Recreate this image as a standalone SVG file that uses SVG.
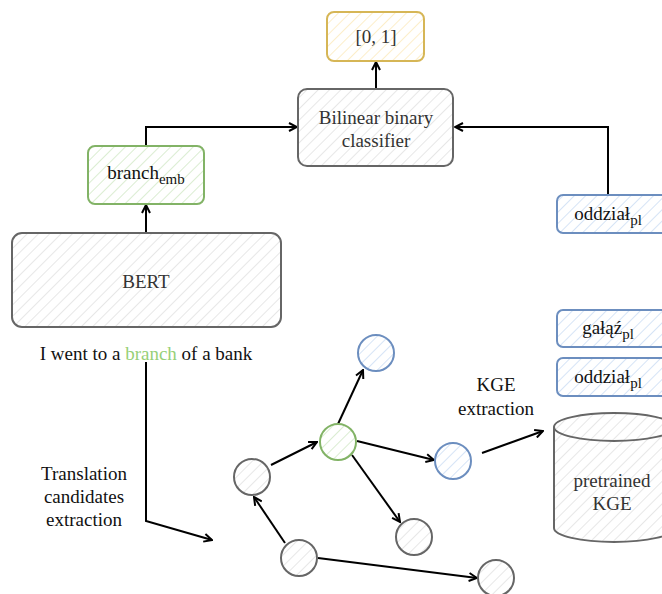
<svg xmlns="http://www.w3.org/2000/svg" width="662" height="594" viewBox="0 0 662 594">
  <defs>
    <pattern id="hatch-gray" patternUnits="userSpaceOnUse" width="8" height="8" patternTransform="rotate(45)">
      <rect width="8" height="8" fill="#ffffff"/>
      <line x1="0" y1="0" x2="0" y2="8" stroke="#e0e0e0" stroke-width="1.5"/>
    </pattern>
    <pattern id="hatch-green" patternUnits="userSpaceOnUse" width="8" height="8" patternTransform="rotate(45)">
      <rect width="8" height="8" fill="#ffffff"/>
      <line x1="0" y1="0" x2="0" y2="8" stroke="#cfe8c4" stroke-width="1.5"/>
    </pattern>
    <pattern id="hatch-yellow" patternUnits="userSpaceOnUse" width="8" height="8" patternTransform="rotate(45)">
      <rect width="8" height="8" fill="#ffffff"/>
      <line x1="0" y1="0" x2="0" y2="8" stroke="#fbe9b8" stroke-width="1.5"/>
    </pattern>
    <pattern id="hatch-blue" patternUnits="userSpaceOnUse" width="8" height="8" patternTransform="rotate(45)">
      <rect width="8" height="8" fill="#ffffff"/>
      <line x1="0" y1="0" x2="0" y2="8" stroke="#c9dbf3" stroke-width="1.5"/>
    </pattern>
    <marker id="arrow" viewBox="0 0 10 10" refX="9" refY="5" markerWidth="5" markerHeight="5" orient="auto-start-reverse" markerUnits="strokeWidth">
      <path d="M1,1 L9,5 L1,9" fill="none" stroke="#000" stroke-width="2"/>
    </marker>
  </defs>

  <!-- connectors: black 2px lines ending in open arrowheads -->
  <g id="connectors" fill="none" stroke="#000000" stroke-width="2" marker-end="url(#arrow)">
    <path d="M376,89 L376,62"/>
    <path d="M146,233 L146,205"/>
    <path d="M146,146 L146,127 L297,127"/>
    <path d="M608,196 L608,127 L455,127"/>
    <path d="M146,362 L146,521 L212,540"/>
    <path d="M338,424 L363,370"/>
    <path d="M357,441 L434,460"/>
    <path d="M352,455 L400,522"/>
    <path d="M271,465 L317,442"/>
    <path d="M285,543 L254,497"/>
    <path d="M318,558 L477,578"/>
    <path d="M482,453 L543,431"/>
  </g>

  <g id="result">
    <rect x="327" y="12" width="97" height="49" rx="7" fill="url(#hatch-yellow)" stroke="#d6b656" stroke-width="2"/>
    <text font-family="'Liberation Serif', serif" font-size="19" fill="#333333" text-anchor="middle" x="376" y="43">[0, 1]</text>
  </g>

  <g id="classifier">
    <rect x="298" y="89" width="155" height="77" rx="9" fill="url(#hatch-gray)" stroke="#666666" stroke-width="2"/>
    <text font-family="'Liberation Serif', serif" font-size="19" fill="#333333" text-anchor="middle" x="376" y="124">Bilinear binary</text>
    <text font-family="'Liberation Serif', serif" font-size="19" fill="#333333" text-anchor="middle" x="376" y="147">classifier</text>
  </g>

  <g id="branch-emb">
    <rect x="88" y="146" width="116" height="58" rx="7" fill="url(#hatch-green)" stroke="#82b366" stroke-width="2"/>
    <text font-family="'Liberation Serif', serif" font-size="19" fill="#111111" text-anchor="middle" x="146" y="179">branch<tspan font-size="15" dy="5">emb</tspan></text>
  </g>

  <g id="bert">
    <rect x="12" y="233" width="269" height="94" rx="10" fill="url(#hatch-gray)" stroke="#666666" stroke-width="2"/>
    <text font-family="'Liberation Serif', serif" font-size="19" fill="#333333" text-anchor="middle" x="146" y="288">BERT</text>
  </g>

  <g id="sentence">
    <text font-family="'Liberation Serif', serif" font-size="19" fill="#111111" text-anchor="middle" x="146" y="360">I went to a <tspan fill="#97d077">branch</tspan> of a bank</text>
  </g>

  <g id="candidates-label">
    <text font-family="'Liberation Serif', serif" font-size="19" fill="#111111" text-anchor="middle" x="84" y="480">Translation</text>
    <text font-family="'Liberation Serif', serif" font-size="19" fill="#111111" text-anchor="middle" x="84" y="503">candidates</text>
    <text font-family="'Liberation Serif', serif" font-size="19" fill="#111111" text-anchor="middle" x="84" y="526">extraction</text>
  </g>

  <g id="target-oddzial">
    <rect x="557" y="195" width="110" height="38" rx="6" fill="url(#hatch-blue)" stroke="#6c8ebf" stroke-width="2"/>
    <text font-family="'Liberation Serif', serif" font-size="19" fill="#111111" text-anchor="middle" x="608" y="220">oddzia&#322;<tspan font-size="15" dy="5">pl</tspan></text>
  </g>

  <g id="cand-galaz">
    <rect x="557" y="310" width="110" height="37" rx="6" fill="url(#hatch-blue)" stroke="#6c8ebf" stroke-width="2"/>
    <text font-family="'Liberation Serif', serif" font-size="19" fill="#111111" text-anchor="middle" x="608" y="334">ga&#322;&#261;&#378;<tspan font-size="15" dy="5">pl</tspan></text>
  </g>

  <g id="cand-oddzial">
    <rect x="557" y="358" width="110" height="38" rx="6" fill="url(#hatch-blue)" stroke="#6c8ebf" stroke-width="2"/>
    <text font-family="'Liberation Serif', serif" font-size="19" fill="#111111" text-anchor="middle" x="608" y="383">oddzia&#322;<tspan font-size="15" dy="5">pl</tspan></text>
  </g>

  <g id="kge-label">
    <text font-family="'Liberation Serif', serif" font-size="19" fill="#111111" text-anchor="middle" x="496" y="391">KGE</text>
    <text font-family="'Liberation Serif', serif" font-size="19" fill="#111111" text-anchor="middle" x="496" y="415">extraction</text>
  </g>

  <g id="pretrained-kge">
    <path d="M554,427 A60,14 0 0 1 674,427 L674,528 A60,14 0 0 1 554,528 Z" fill="url(#hatch-gray)" stroke="#666666" stroke-width="2"/>
    <path fill="none" stroke="#666666" stroke-width="2" d="M554,427 A60,14 0 0 0 674,427"/>
    <text font-family="'Liberation Serif', serif" font-size="19" fill="#333333" text-anchor="middle" x="612" y="487">pretrained</text>
    <text font-family="'Liberation Serif', serif" font-size="19" fill="#333333" text-anchor="middle" x="612" y="510">KGE</text>
  </g>

  <!-- graph nodes -->
  <g id="n-top"><circle cx="376" cy="353" r="18" fill="url(#hatch-blue)" stroke="#6c8ebf" stroke-width="2"/></g>
  <g id="n-center"><circle cx="338" cy="442" r="18" fill="url(#hatch-green)" stroke="#82b366" stroke-width="2"/></g>
  <g id="n-left"><circle cx="252" cy="477" r="18" fill="url(#hatch-gray)" stroke="#666666" stroke-width="2"/></g>
  <g id="n-right"><circle cx="453" cy="461" r="18" fill="url(#hatch-blue)" stroke="#6c8ebf" stroke-width="2"/></g>
  <g id="n-mid"><circle cx="414" cy="537" r="18" fill="url(#hatch-gray)" stroke="#666666" stroke-width="2"/></g>
  <g id="n-bottom"><circle cx="299" cy="558" r="18" fill="url(#hatch-gray)" stroke="#666666" stroke-width="2"/></g>
  <g id="n-far"><circle cx="496" cy="578" r="18" fill="url(#hatch-gray)" stroke="#666666" stroke-width="2"/></g>
</svg>
